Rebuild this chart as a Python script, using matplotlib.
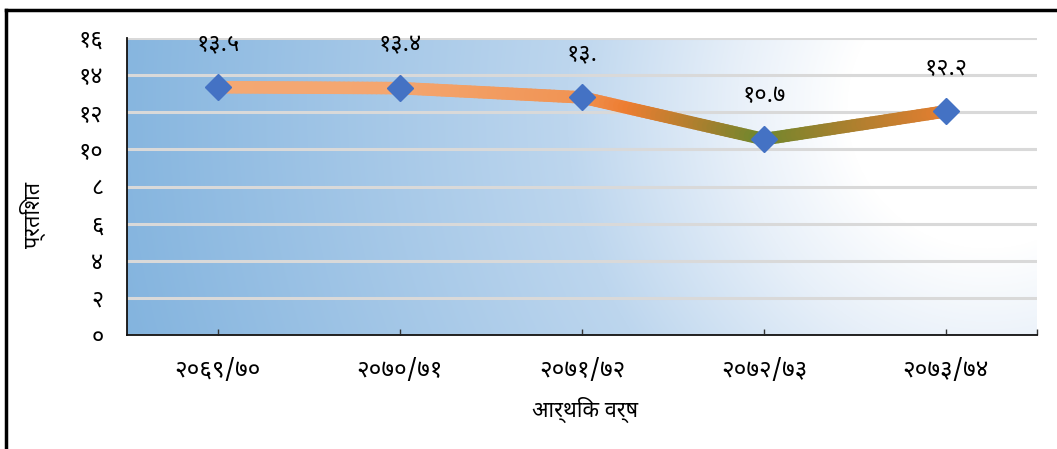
import numpy as np
import matplotlib
matplotlib.use("Agg")
import matplotlib.pyplot as plt
from matplotlib.collections import LineCollection
from matplotlib.colors import to_rgb
from matplotlib.lines import Line2D

plt.rcParams['font.family'] = ['Noto Sans Devanagari', 'DejaVu Sans']

# data (आर्थिक वर्ष vs प्रतिशत) - positions
years = ['२०६९/७०', '२०७०/७१', '२०७१/७२', '२०७२/७३', '२०७३/७४']
values = [13.35, 13.3, 12.8, 10.55, 12.05]
value_labels = ['१३.५', '१३.४', '१३.', '१०.७', '१२.२']
yticks = [0, 2, 4, 6, 8, 10, 12, 14, 16]
ytick_labels = ['०', '२', '४', '६', '८', '१०', '१२', '१४', '१६']

W, H = 1057, 449
fig = plt.figure(figsize=(W / 100, H / 100), dpi=100)
ax = fig.add_axes([127 / W, 1 - 335 / H, 910 / W, 297 / H])

x = np.arange(len(years))
ax.set_xlim(-0.5, len(years) - 0.5)
ax.set_ylim(0, 16)

# background: radial-ish gradient, white near upper right, blue to the left
gw, gh = 910, 297
gx, gy = np.meshgrid(np.arange(gw), np.arange(gh))
d = np.hypot(gx - 860, gy - 70)
stops_d = [0, 140, 250, 420, 900]
stops_c = np.array([to_rgb(c) for c in ['#ffffff', '#ffffff', '#e8f0f9', '#bdd6ee', '#82b3de']])
img = np.dstack([np.interp(d, stops_d, stops_c[:, k]) for k in range(3)])
ax.imshow(img, extent=[0, 1, 0, 1], transform=ax.transAxes, aspect='auto', zorder=0)

ax.set_yticks(yticks)
ax.set_yticklabels(ytick_labels)
ax.grid(axis='y', color='#d9d9d9', lw=2.2, zorder=1)
ax.set_axisbelow(False)

# thick gradient line (orange on top -> green at the bottom)
def shade(y):
    sy = [10.3, 11.2, 12.2, 13.7]
    sc = np.array([to_rgb(c) for c in ['#5a8a2c', '#a4802e', '#ed7d31', '#f6b587']])
    return [np.interp(y, sy, sc[:, k]) for k in range(3)]

segs, cols = [], []
for i in range(len(x) - 1):
    t = np.linspace(0, 1, 40)
    xs = x[i] + (x[i + 1] - x[i]) * t
    ys = values[i] + (values[i + 1] - values[i]) * t
    for j in range(len(t) - 1):
        segs.append([(xs[j], ys[j]), (xs[j + 1], ys[j + 1])])
        cols.append(shade((ys[j] + ys[j + 1]) / 2))
lc = LineCollection(segs, colors=cols, linewidths=9, capstyle='round', zorder=3)
ax.add_collection(lc)

ax.plot(x, values, ls='none', marker='D', ms=13.5, color='#4472c4', zorder=4)

for xi, v, lab in zip(x, values, value_labels):
    ax.annotate(lab, (xi, v), xytext=(0, 31), textcoords='offset points',
                ha='center', va='center', fontsize=17, color='#000000', zorder=5)

ax.set_xticks(x)
ax.set_xticklabels(years, fontsize=17.5)
ax.set_xticks([len(years) - 0.5], minor=True)
ax.tick_params(axis='x', which='both', direction='in', length=4, width=1, color='#333333', pad=17)
ax.tick_params(axis='y', length=0, pad=17, labelsize=17)
for lab in ax.get_yticklabels():
    lab.set_horizontalalignment('right')

for s in ['top', 'right']:
    ax.spines[s].set_visible(False)
for s in ['left', 'bottom']:
    ax.spines[s].set_color('#111111')
    ax.spines[s].set_linewidth(1.3)
    ax.spines[s].set_zorder(6)

fig.text(585 / W, 1 - 410 / H, 'आर्थिक वर्ष', ha='center', va='center', fontsize=15.5)
fig.text(33 / W, 1 - 215 / H, 'प्रतिशत', ha='center', va='center', fontsize=15.5, rotation=90)

# outer frame (left and top edges)
fig.add_artist(Line2D([6 / W, 6 / W], [0, 1 - 10 / H], color='#000000', lw=2.5))
fig.add_artist(Line2D([6 / W, 1], [1 - 10 / H, 1 - 10 / H], color='#000000', lw=2.5))

fig.savefig('out.png', dpi=100)
